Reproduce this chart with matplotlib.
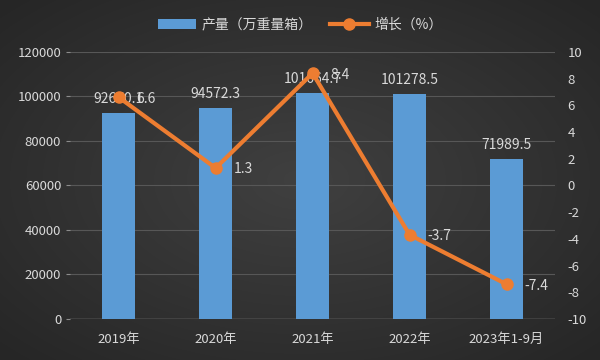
import matplotlib
matplotlib.use('Agg')
import matplotlib.pyplot as plt
import numpy as np

plt.rcParams['font.family'] = ['Noto Sans CJK SC', 'DejaVu Sans']
plt.rcParams['axes.unicode_minus'] = False

years = ['2019年', '2020年', '2021年', '2022年', '2023年1-9月']
output = [92670.1, 94572.3, 101664.7, 101278.5, 71989.5]
growth = [6.6, 1.3, 8.4, -3.7, -7.4]
output_labels = ['92670.1', '94572.3', '101664.7', '101278.5', '71989.5']
growth_labels = ['6.6', '1.3', '8.4', '-3.7', '-7.4']

txt = '#d9d9d9'
bar_c = '#5b9bd5'
line_c = '#ed7d31'

fig = plt.figure(figsize=(6, 3.6), dpi=100)

# dark radial background
bg = fig.add_axes([0, 0, 1, 1], zorder=-10)
yy, xx = np.mgrid[-1:1:360j, -1:1:600j]
r = np.sqrt(xx ** 2 + yy ** 2)
bg.imshow(r, cmap=matplotlib.colors.LinearSegmentedColormap.from_list('bg', ['#404040', '#262626']),
          vmin=0, vmax=1.4, aspect='auto', extent=[0, 1, 0, 1])
bg.axis('off')

ax = fig.add_axes([0.117, 0.114, 0.808, 0.742])
ax.patch.set_alpha(0)
x = np.arange(len(years))
bars = ax.bar(x, output, width=0.34, color=bar_c, zorder=2, label='产量（万重量箱）')
ax.set_ylim(0, 120000)
ax.set_yticks(np.arange(0, 120001, 20000))
ax.set_xlim(-0.5, 4.5)
ax.set_xticks(x)
ax.set_xticklabels(years)
ax.grid(axis='y', color='#575757', lw=0.8, zorder=0)
for s in ax.spines.values():
    s.set_visible(False)
ax.axhline(0, color='#8c8c8c', lw=1, zorder=1)
ax.tick_params(axis='y', colors='#8c8c8c', labelcolor=txt, labelsize=9.5, length=3)
ax.tick_params(axis='x', length=0, labelcolor=txt, labelsize=9.5, pad=10)
for xi, v, lab in zip(x, output, output_labels):
    ax.annotate(lab, (xi, v), xytext=(0, 5), textcoords='offset points',
                ha='center', va='bottom', color=txt, fontsize=10)

ax2 = ax.twinx()
ax2.set_ylim(-10, 10)
ax2.set_yticks(np.arange(-10, 11, 2))
for s in ax2.spines.values():
    s.set_visible(False)
ax2.tick_params(axis='y', length=0, labelcolor=txt, labelsize=9.5, pad=9)
line, = ax2.plot(x, growth, color=line_c, lw=3, marker='o', ms=8, zorder=3, label='增长（%）')
for xi, v, lab in zip(x, growth, growth_labels):
    ax2.annotate(lab, (xi, v), xytext=(13, -1), textcoords='offset points',
                 ha='left', va='center', color=txt, fontsize=10)

fig.legend(handles=[bars, line], loc='upper center', bbox_to_anchor=(0.5, 0.985), ncol=2,
           frameon=False, fontsize=10, labelcolor=txt, handlelength=2.8, columnspacing=1.2,
           handletextpad=0.4)

fig.savefig('out.png', dpi=100)
